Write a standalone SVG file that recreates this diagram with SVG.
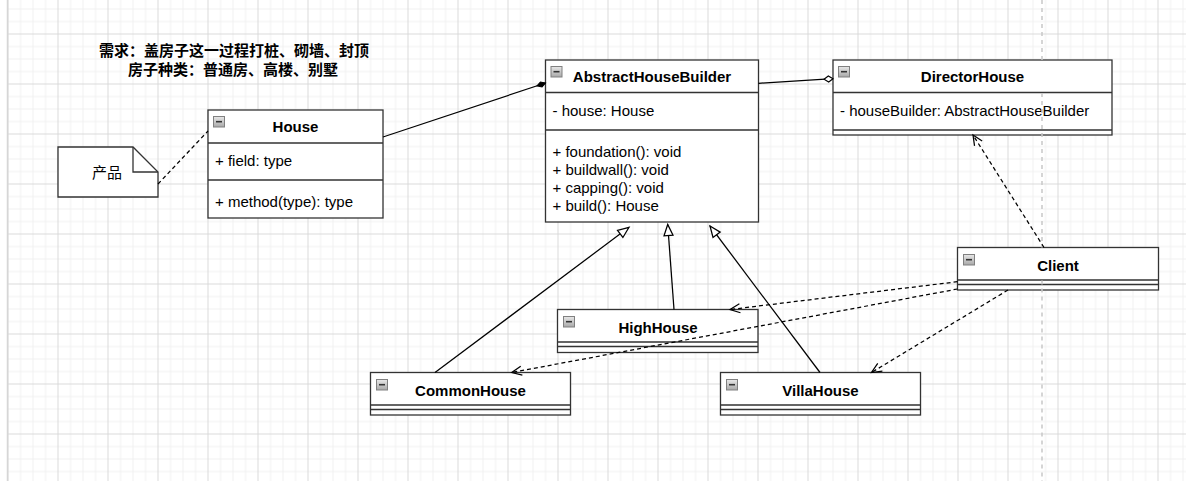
<svg xmlns="http://www.w3.org/2000/svg" width="1186" height="481" viewBox="0 0 1186 481">
<style>
.box{fill:#fff;stroke:#333;stroke-width:1.3}
.sep{stroke:#333;stroke-width:1.3;fill:none}
.title{font-family:"Liberation Sans",Arial,sans-serif;font-size:15px;font-weight:bold;fill:#000;text-anchor:middle}
.txt{font-family:"Liberation Sans",Arial,sans-serif;font-size:15px;fill:#000}
.cjk{font-family:"Liberation Sans","Noto Sans CJK SC",sans-serif;font-size:15px;fill:#000}
.edge{fill:none;stroke:#000;stroke-width:1.25}
.dash{stroke-dasharray:4 3}
</style>
<defs>
<pattern id="grid" x="7.5" y="33.5" width="50" height="50" patternUnits="userSpaceOnUse">
<path d="M13 0V50M25.5 0V50M38 0V50M0 13H50M0 25.5H50M0 38H50" stroke="#f0f0f0" stroke-width="1" fill="none"/>
<path d="M0.5 0V50M0 0.5H50" stroke="#dadada" stroke-width="1" fill="none"/>
</pattern>
<linearGradient id="ig" x1="0" y1="0" x2="0" y2="1">
<stop offset="0" stop-color="#e8e8e8"/>
<stop offset="1" stop-color="#a8a8a8"/>
</linearGradient>
<g id="icon">
<rect x="0" y="0" width="11" height="10.5" fill="url(#ig)" stroke="#808080" stroke-width="1"/>
<line x1="2.5" y1="5.2" x2="8.5" y2="5.2" stroke="#333" stroke-width="1.6"/>
</g>
<marker id="open" markerUnits="userSpaceOnUse" viewBox="-12 -6 14 12" markerWidth="14" markerHeight="12" refX="0" refY="0" orient="auto">
<path d="M-10,-4.5 L0,0 L-10,4.5" fill="none" stroke="#000" stroke-width="1.25"/>
</marker>
<marker id="tri" markerUnits="userSpaceOnUse" viewBox="-13 -7 15 14" markerWidth="15" markerHeight="14" refX="0" refY="0" orient="auto">
<path d="M0,0 L-11,-4.5 L-11,4.5 Z" fill="#fff" stroke="#000" stroke-width="1.25"/>
</marker>
<marker id="dfill" markerUnits="userSpaceOnUse" viewBox="-11 -5 13 10" markerWidth="13" markerHeight="10" refX="0" refY="0" orient="auto">
<path d="M0,0 L-4.5,-2.6 L-9,0 L-4.5,2.6 Z" fill="#000" stroke="#000" stroke-width="1"/>
</marker>
<marker id="dopen" markerUnits="userSpaceOnUse" viewBox="-11 -5 13 10" markerWidth="13" markerHeight="10" refX="0" refY="0" orient="auto">
<path d="M0,0 L-4.5,-3 L-9,0 L-4.5,3 Z" fill="#fff" stroke="#000" stroke-width="1.1"/>
</marker>
</defs>

<rect x="0" y="0" width="1186" height="481" fill="#fff"/>
<rect x="7" y="0" width="1179" height="481" fill="url(#grid)"/>
<line x1="7.5" y1="0" x2="7.5" y2="481" stroke="#d6d6d6" stroke-width="1.5"/>

<g id="title-text">
<text class="cjk" x="234" y="56" text-anchor="middle" font-weight="bold">需求：盖房子这一过程打桩、砌墙、封顶</text>
<text class="cjk" x="233" y="75" text-anchor="middle" font-weight="bold">房子种类：普通房、高楼、别墅</text>
</g>

<g id="note-product">
<path class="box" d="M58,147 H133 L158,172 V197 H58 Z"/>
<path class="sep" d="M133,147 V172 H158"/>
<text class="cjk" x="107" y="178" text-anchor="middle">产品</text>
</g>

<g id="House">
<rect class="box" x="208" y="110" width="175" height="108"/>
<path class="sep" d="M208,143 H383 M208,180 H383"/>
<use href="#icon" x="213.5" y="116.5"/>
<text class="title" x="295.5" y="132">House</text>
<text class="txt" x="215" y="165.5">+ field: type</text>
<text class="txt" x="215" y="207">+ method(type): type</text>
</g>

<g id="AbstractHouseBuilder">
<rect class="box" x="545.5" y="60" width="213" height="162"/>
<path class="sep" d="M545.5,92.5 H758.5 M545.5,130 H758.5"/>
<use href="#icon" x="551" y="66.5"/>
<text class="title" x="652" y="82">AbstractHouseBuilder</text>
<text class="txt" x="552.5" y="115.5">- house: House</text>
<text class="txt" x="552.5" y="157">+ foundation(): void</text>
<text class="txt" x="552.5" y="175">+ buildwall(): void</text>
<text class="txt" x="552.5" y="193">+ capping(): void</text>
<text class="txt" x="552.5" y="211">+ build(): House</text>
</g>

<g id="DirectorHouse">
<rect class="box" x="833" y="60" width="279" height="75"/>
<path class="sep" d="M833,92.5 H1112 M833,130 H1112"/>
<use href="#icon" x="838.5" y="66.5"/>
<text class="title" x="972.5" y="82">DirectorHouse</text>
<text class="txt" x="840" y="115.5">- houseBuilder: AbstractHouseBuilder</text>
</g>

<g id="Client">
<rect class="box" x="957.5" y="247.5" width="201" height="42.5"/>
<path class="sep" d="M957.5,280 H1158.5 M957.5,284.5 H1158.5"/>
<use href="#icon" x="963.5" y="254.5"/>
<text class="title" x="1058" y="270.5">Client</text>
</g>

<g id="HighHouse">
<rect class="box" x="557.5" y="309.5" width="200.5" height="43"/>
<path class="sep" d="M557.5,342 H758 M557.5,346.5 H758"/>
<use href="#icon" x="563.5" y="316.5"/>
<text class="title" x="658" y="332.5">HighHouse</text>
</g>

<g id="CommonHouse">
<rect class="box" x="370.5" y="372.5" width="200" height="42.5"/>
<path class="sep" d="M370.5,405 H570.5 M370.5,409.5 H570.5"/>
<use href="#icon" x="376.5" y="379.5"/>
<text class="title" x="470.5" y="395.5">CommonHouse</text>
</g>

<g id="VillaHouse">
<rect class="box" x="720.5" y="372.5" width="200" height="42.5"/>
<path class="sep" d="M720.5,405 H920.5 M720.5,409.5 H920.5"/>
<use href="#icon" x="726.5" y="379.5"/>
<text class="title" x="820.5" y="395.5">VillaHouse</text>
</g>

<path d="M1042,0 V60 M1042,93 V247.5 M1042,280.5 V481" stroke="#c8c8c8" stroke-width="1.5" stroke-dasharray="4 4" fill="none"/>

<g id="connectors">
<path class="edge dash" d="M158,184 L208,131"/>
<path class="edge" d="M383,137 L545.5,83" marker-end="url(#dfill)"/>
<path class="edge" d="M758.5,83.3 L833,78.7" marker-end="url(#dopen)"/>
<path class="edge dash" d="M1044,247.5 L973,135" marker-end="url(#open)"/>
<path class="edge dash" d="M957.5,281.7 L730,309.5" marker-end="url(#open)"/>
<path class="edge dash" d="M957.5,289 L511.7,372.5" marker-end="url(#open)"/>
<path class="edge dash" d="M1008,290 L871.5,372.5" marker-end="url(#open)"/>
<path class="edge" d="M435,372.5 L629,227.3" marker-end="url(#tri)"/>
<path class="edge" d="M674,309.5 L667.7,224.5" marker-end="url(#tri)"/>
<path class="edge" d="M820,372.5 L710,226" marker-end="url(#tri)"/>
</g>
</svg>
